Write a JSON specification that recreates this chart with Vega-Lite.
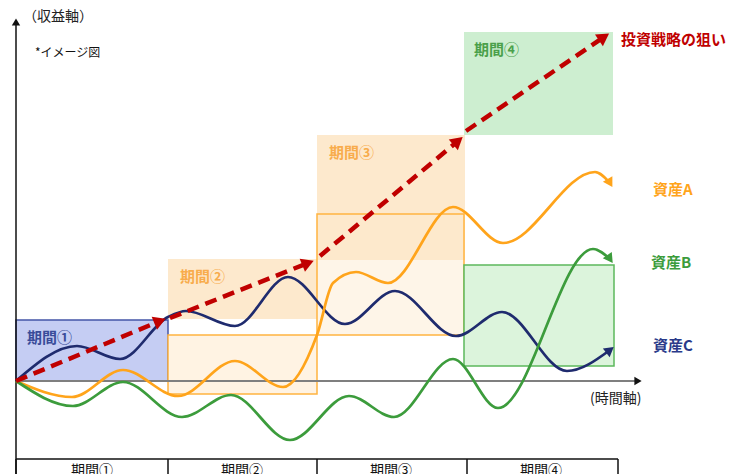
{
  "$schema": "https://vega.github.io/schema/vega-lite/v6.json",
  "width": 736,
  "height": 474,
  "autosize": {"type": "none"},
  "padding": 0,
  "background": "white",
  "config": {"view": {"stroke": null}, "font": "Noto Sans CJK JP"},
  "datasets": {
    "boxes": [
      {"id": "P1", "x": 0, "x2": 152, "y": 0, "y2": 61},
      {"id": "P2u", "x": 152, "x2": 301, "y": 62, "y2": 122},
      {"id": "P3u", "x": 301, "x2": 449, "y": 121, "y2": 246},
      {"id": "P4u", "x": 448, "x2": 597, "y": 246, "y2": 349},
      {"id": "P2f", "x": 152, "x2": 301, "y": -13, "y2": 46},
      {"id": "P3f", "x": 301, "x2": 448, "y": 46, "y2": 167},
      {"id": "P4f", "x": 448, "x2": 598, "y": 15, "y2": 116}
    ],
    "rules": [
      {"kind": "black", "x": 0, "y": -93, "x2": 0, "y2": 359},
      {"kind": "gray", "x": 0, "y": 0, "x2": 620, "y2": 0},
      {"kind": "black", "x": 0, "y": -78, "x2": 602, "y2": -78},
      {"kind": "black", "x": 0, "y": -78, "x2": 0, "y2": -93},
      {"kind": "black", "x": 152, "y": -78, "x2": 152, "y2": -93},
      {"kind": "black", "x": 301, "y": -78, "x2": 301, "y2": -93},
      {"kind": "black", "x": 451, "y": -78, "x2": 451, "y2": -93},
      {"kind": "black", "x": 602, "y": -78, "x2": 602, "y2": -93}
    ],
    "curves": [
      {"series": "C", "x": 0, "y": 0},
      {"series": "C", "x": 61, "y": 35},
      {"series": "C", "x": 104, "y": 22},
      {"series": "C", "x": 152, "y": 64},
      {"series": "C", "x": 170, "y": 70},
      {"series": "C", "x": 219, "y": 55},
      {"series": "C", "x": 272, "y": 104},
      {"series": "C", "x": 329, "y": 57},
      {"series": "C", "x": 379, "y": 90},
      {"series": "C", "x": 440, "y": 45},
      {"series": "C", "x": 486, "y": 69},
      {"series": "C", "x": 551, "y": 10},
      {"series": "C", "x": 594, "y": 31},
      {"series": "A", "x": 0, "y": 0},
      {"series": "A", "x": 56, "y": -16},
      {"series": "A", "x": 107, "y": 11},
      {"series": "A", "x": 162, "y": -15},
      {"series": "A", "x": 219, "y": 20},
      {"series": "A", "x": 267, "y": -6},
      {"series": "A", "x": 301, "y": 46},
      {"series": "A", "x": 317, "y": 98},
      {"series": "A", "x": 340, "y": 109},
      {"series": "A", "x": 372, "y": 98},
      {"series": "A", "x": 437, "y": 174},
      {"series": "A", "x": 487, "y": 138},
      {"series": "A", "x": 579, "y": 209},
      {"series": "A", "x": 594, "y": 198},
      {"series": "B", "x": 0, "y": 0},
      {"series": "B", "x": 57, "y": -25},
      {"series": "B", "x": 107, "y": -1},
      {"series": "B", "x": 166, "y": -36},
      {"series": "B", "x": 215, "y": -14},
      {"series": "B", "x": 274, "y": -59},
      {"series": "B", "x": 333, "y": -15},
      {"series": "B", "x": 378, "y": -36},
      {"series": "B", "x": 437, "y": 22},
      {"series": "B", "x": 482, "y": -27},
      {"series": "B", "x": 577, "y": 132},
      {"series": "B", "x": 594, "y": 122}
    ],
    "strategy": [
      {"seg": 1, "x": 0, "y": 0},
      {"seg": 1, "x": 144, "y": 60},
      {"seg": 2, "x": 154, "y": 63},
      {"seg": 2, "x": 292, "y": 118},
      {"seg": 3, "x": 304, "y": 125},
      {"seg": 3, "x": 442, "y": 240},
      {"seg": 4, "x": 450, "y": 250},
      {"seg": 4, "x": 588, "y": 344}
    ],
    "heads": [
      {"name": "r1", "x": 144, "y": 60},
      {"name": "r2", "x": 292, "y": 118},
      {"name": "r3", "x": 442, "y": 240},
      {"name": "r4", "x": 588, "y": 344},
      {"name": "C", "x": 594, "y": 31},
      {"name": "A", "x": 594, "y": 198},
      {"name": "B", "x": 594, "y": 122},
      {"name": "yaxis", "x": 0, "y": 359},
      {"name": "xaxis", "x": 622, "y": 0}
    ],
    "labels": [
      {"kind": "plain", "text": "（収益軸）", "x": 7, "y": 364},
      {"kind": "note", "text": "*イメージ図", "x": 19, "y": 328},
      {"kind": "plain", "text": "(時間軸)", "x": 574, "y": -18},
      {"kind": "key", "key": "P1", "text": "期間①", "x": 11, "y": 43},
      {"kind": "key", "key": "P2", "text": "期間②", "x": 164, "y": 104},
      {"kind": "key", "key": "P3", "text": "期間③", "x": 313, "y": 228},
      {"kind": "key", "key": "P4", "text": "期間④", "x": 458, "y": 331},
      {"kind": "key", "key": "S", "text": "投資戦略の狙い", "x": 605, "y": 341},
      {"kind": "key", "key": "A", "text": "資産A", "x": 637, "y": 191},
      {"kind": "key", "key": "B", "text": "資産B", "x": 635, "y": 118},
      {"kind": "key", "key": "C", "text": "資産C", "x": 637, "y": 35},
      {"kind": "bottom", "text": "期間①", "x": 76, "y": -90},
      {"kind": "bottom", "text": "期間②", "x": 226, "y": -90},
      {"kind": "bottom", "text": "期間③", "x": 375, "y": -90},
      {"kind": "bottom", "text": "期間④", "x": 525, "y": -90}
    ]
  },
  "encoding": {
    "x": {"field": "x", "type": "quantitative", "scale": {"domain": [-16, 720], "nice": false, "zero": false}, "axis": null},
    "y": {"field": "y", "type": "quantitative", "scale": {"domain": [-93, 381], "nice": false, "zero": false}, "axis": null}
  },
  "layer": [
    {
      "data": {"name": "boxes"},
      "mark": {"type": "rect", "strokeWidth": 1.5},
      "encoding": {
        "x2": {"field": "x2"},
        "y2": {"field": "y2"},
        "fill": {"field": "id", "type": "nominal", "legend": null,
          "scale": {"domain": ["P1", "P2u", "P3u", "P4u", "P2f", "P3f", "P4f"],
                    "range": ["#c5cdf3", "#fde9cd", "#fde9cd", "#cdeed0", "#fff3e3", "rgba(253,233,205,0.45)", "#dcf4dc"]}},
        "stroke": {"field": "id", "type": "nominal", "legend": null,
          "scale": {"domain": ["P1", "P2u", "P3u", "P4u", "P2f", "P3f", "P4f"],
                    "range": ["#4455a8", "transparent", "transparent", "transparent", "#ffb440", "#ffb440", "#5cb85c"]}}
      }
    },
    {
      "data": {"name": "rules"},
      "transform": [{"filter": "datum.kind === 'gray'"}],
      "mark": {"type": "rule", "color": "#7f7f7f", "strokeWidth": 2},
      "encoding": {"x2": {"field": "x2"}, "y2": {"field": "y2"}}
    },
    {
      "data": {"name": "rules"},
      "transform": [{"filter": "datum.kind === 'black'"}],
      "mark": {"type": "rule", "color": "#111111", "strokeWidth": 1.5},
      "encoding": {"x2": {"field": "x2"}, "y2": {"field": "y2"}}
    },
    {
      "data": {"name": "curves"},
      "mark": {"type": "line", "interpolate": "monotone", "strokeWidth": 2.7},
      "encoding": {
        "color": {"field": "series", "type": "nominal", "legend": null,
          "scale": {"domain": ["A", "B", "C"], "range": ["#ffa41b", "#3c9c3c", "#1f2b6e"]}}
      }
    },
    {
      "data": {"name": "strategy"},
      "mark": {"type": "line", "color": "#c00000", "strokeWidth": 4.5, "strokeDash": [12, 7]},
      "encoding": {"detail": {"field": "seg", "type": "nominal"}}
    },
    {
      "data": {"name": "heads"},
      "transform": [{"filter": "datum.name === 'r1' || datum.name === 'r2'"}],
      "mark": {"type": "point", "shape": "triangle-up", "filled": true, "opacity": 1, "color": "#c00000", "size": 200, "angle": 68}
    },
    {
      "data": {"name": "heads"},
      "transform": [{"filter": "datum.name === 'r3'"}],
      "mark": {"type": "point", "shape": "triangle-up", "filled": true, "opacity": 1, "color": "#c00000", "size": 200, "angle": 50}
    },
    {
      "data": {"name": "heads"},
      "transform": [{"filter": "datum.name === 'r4'"}],
      "mark": {"type": "point", "shape": "triangle-up", "filled": true, "opacity": 1, "color": "#c00000", "size": 200, "angle": 56}
    },
    {
      "data": {"name": "heads"},
      "transform": [{"filter": "datum.name === 'C'"}],
      "mark": {"type": "point", "shape": "triangle-up", "filled": true, "opacity": 1, "color": "#1f2b6e", "size": 120, "angle": 52}
    },
    {
      "data": {"name": "heads"},
      "transform": [{"filter": "datum.name === 'A'"}],
      "mark": {"type": "point", "shape": "triangle-up", "filled": true, "opacity": 1, "color": "#ffa41b", "size": 120, "angle": 150}
    },
    {
      "data": {"name": "heads"},
      "transform": [{"filter": "datum.name === 'B'"}],
      "mark": {"type": "point", "shape": "triangle-up", "filled": true, "opacity": 1, "color": "#3c9c3c", "size": 120, "angle": 145}
    },
    {
      "data": {"name": "heads"},
      "transform": [{"filter": "datum.name === 'yaxis'"}],
      "mark": {"type": "point", "shape": "triangle-up", "filled": true, "opacity": 1, "color": "#111111", "size": 70, "angle": 0}
    },
    {
      "data": {"name": "heads"},
      "transform": [{"filter": "datum.name === 'xaxis'"}],
      "mark": {"type": "point", "shape": "triangle-up", "filled": true, "opacity": 1, "color": "#111111", "size": 70, "angle": 90}
    },
    {
      "data": {"name": "labels"},
      "transform": [{"filter": "datum.kind === 'plain'"}],
      "mark": {"type": "text", "align": "left", "baseline": "middle", "fontSize": 14, "color": "#222222"},
      "encoding": {"text": {"field": "text"}}
    },
    {
      "data": {"name": "labels"},
      "transform": [{"filter": "datum.kind === 'note'"}],
      "mark": {"type": "text", "align": "left", "baseline": "middle", "fontSize": 12, "color": "#111111"},
      "encoding": {"text": {"field": "text"}}
    },
    {
      "data": {"name": "labels"},
      "transform": [{"filter": "datum.kind === 'bottom'"}],
      "mark": {"type": "text", "align": "center", "baseline": "middle", "fontSize": 14, "color": "#111111"},
      "encoding": {"text": {"field": "text"}}
    },
    {
      "data": {"name": "labels"},
      "transform": [{"filter": "datum.kind === 'key'"}],
      "mark": {"type": "text", "align": "left", "baseline": "middle", "fontSize": 15, "fontWeight": "bold"},
      "encoding": {
        "text": {"field": "text"},
        "color": {"field": "key", "type": "nominal", "legend": null,
          "scale": {"domain": ["P1", "P2", "P3", "P4", "S", "A", "B", "C"],
                    "range": ["#3a4c9a", "#f8ac4c", "#f8ac4c", "#4aa04a", "#c00000", "#ffa41b", "#3c9c3c", "#2a3a8a"]}}
      }
    }
  ],
  "resolve": {"scale": {"color": "independent", "fill": "independent", "stroke": "independent"}}
}
